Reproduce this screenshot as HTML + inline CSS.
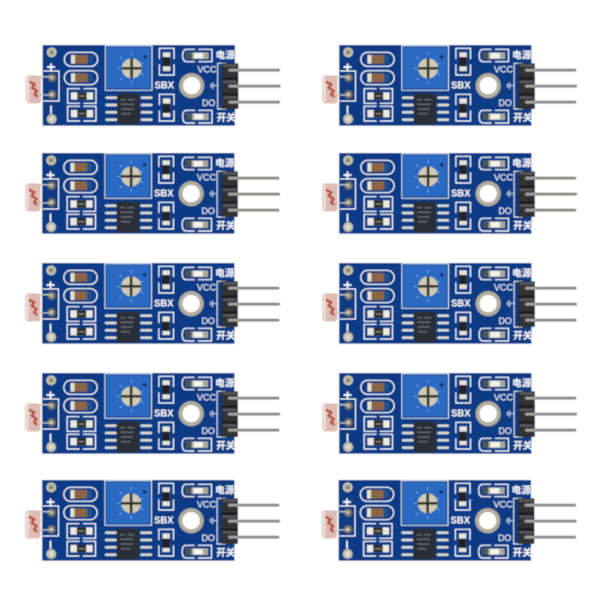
<!DOCTYPE html>
<html><head><meta charset="utf-8"><style>html,body{margin:0;padding:0;background:#fff;width:600px;height:600px;overflow:hidden}svg{display:block}text{font-family:"Liberation Sans","Noto Sans CJK SC",sans-serif;font-weight:700;fill:#fff}</style></head><body>
<svg width="600" height="600" viewBox="0 0 600 600" xmlns="http://www.w3.org/2000/svg">
<defs>
<filter id="s" x="0" y="0" width="600" height="600" filterUnits="userSpaceOnUse"><feGaussianBlur stdDeviation=".4"/></filter>
<g id="b">
<!-- pins behind -->
<g fill="#8c8c88"><rect x="650" y="101" width="130" height="9" rx="4"/><rect x="650" y="149" width="132" height="9" rx="4"/><rect x="650" y="197" width="130" height="9" rx="4"/></g>
<!-- LDR body -->
<rect x="17" y="121" width="46" height="84" rx="9" fill="#dcbcb4"/>
<rect x="19" y="124" width="9" height="78" rx="4" fill="#ecdcd6"/>
<path d="M28 140l16 8-7 10 14 10-7 10 9 8" fill="none" stroke="#b8483e" stroke-width="7"/>
<!-- board -->
<rect x="68" y="30" width="577" height="242" fill="#0a3a86"/>
<path d="M130 175H260M130 205H260M400 90L480 60M560 190L600 175" stroke="#0e4ba0" stroke-width="3" fill="none"/>
<!-- mounting holes -->
<circle cx="95" cy="52" r="15" fill="#c2c0ae"/><circle cx="95" cy="52" r="7" fill="#8d8a74"/>
<circle cx="95" cy="252" r="15" fill="#c2c0ae"/><circle cx="95" cy="252" r="7" fill="#dcdcd2"/>
<!-- +/- and LDR pads -->
<path d="M81 96h24M93 85v22M93 212v24" stroke="#fff" stroke-width="5" fill="none"/>
<path d="M70 108H117V198H70" stroke="#fff" stroke-width="3" fill="none"/>
<circle cx="96" cy="128" r="13" fill="#6f6e62"/><circle cx="96" cy="128" r="6" fill="#b5b3a0"/>
<circle cx="96" cy="178" r="13" fill="#6f6e62"/><circle cx="96" cy="178" r="6" fill="#c5c3b0"/>
<path d="M58 125H96M58 180H96" stroke="#c2c2ba" stroke-width="4"/>
<!-- capsule parts -->
<g stroke="#fff" stroke-width="3.5" fill="none"><rect x="133" y="52" width="100" height="42" rx="21"/><rect x="133" y="107" width="100" height="42" rx="21"/></g>
<rect x="153" y="60" width="50" height="26" fill="#8a6646"/><rect x="153" y="60" width="12" height="26" fill="#e4e0d0"/><rect x="203" y="60" width="16" height="26" fill="#234f8e"/>
<rect x="153" y="115" width="50" height="26" fill="#8a6646"/><rect x="153" y="115" width="12" height="26" fill="#e4e0d0"/><rect x="203" y="115" width="16" height="26" fill="#234f8e"/>
<!-- resistors -->
<g stroke="#fff" stroke-width="3.5" fill="none"><path d="M180 161H143V205H180M190 161H228V205H190"/><path d="M180 214H143V258H180M190 214H228V258H190"/></g>
<rect x="153" y="172" width="66" height="22" fill="#eceae0"/><rect x="172" y="172" width="28" height="22" fill="#2a2a2a"/>
<rect x="153" y="225" width="66" height="22" fill="#eceae0"/><rect x="172" y="225" width="28" height="22" fill="#2a2a2a"/>
<path d="M177 183h18M177 236h18" stroke="#7c7c76" stroke-width="5"/>
<!-- IC -->
<g fill="#d8d8d0"><rect x="256" y="184" width="36" height="8" rx="4"/><rect x="256" y="206" width="36" height="8" rx="4"/><rect x="256" y="228" width="36" height="8" rx="4"/><rect x="256" y="250" width="36" height="8" rx="4"/><rect x="362" y="184" width="36" height="8" rx="4"/><rect x="362" y="206" width="36" height="8" rx="4"/><rect x="362" y="228" width="36" height="8" rx="4"/><rect x="362" y="250" width="36" height="8" rx="4"/></g>
<rect x="292" y="176" width="66" height="92" rx="3" fill="#2b2f36"/>
<path d="M302 194h14M324 194h20M302 208h40M304 222h36M304 236h28" stroke="#5f656e" stroke-width="5"/>
<!-- potentiometer -->
<rect x="256" y="32" width="140" height="134" fill="none" stroke="#dfe8f4" stroke-width="3"/>
<rect x="260" y="36" width="131" height="125" fill="#2c6ac2"/>
<rect x="370" y="60" width="11" height="11" rx="5.5" fill="#12305f"/>
<g stroke="#6fa8e6" stroke-width="3"><path d="M335 50v10M300 65l7 7M370 120l-7-7M292 100h10M300 135l7-7M335 148v-10M370 85l-8 3"/></g>
<circle cx="335" cy="100" r="30" fill="#cfcab6"/><path d="M331 70h8v60h-8zM305 96h60v8h-60z" fill="#33322e"/>
<!-- right-hand resistor packs -->
<g stroke="#fff" stroke-width="3.5" fill="none"><path d="M418 72V40H462V72M418 88V120H462V88"/><path d="M418 210V178H462V210M418 226V258H462V226"/></g>
<rect x="429" y="52" width="22" height="56" fill="#e6e4d8"/><rect x="429" y="66" width="22" height="28" fill="#232323"/>
<rect x="429" y="190" width="22" height="56" fill="#e6e4d8"/><rect x="429" y="206" width="22" height="28" fill="#232323"/>
<!-- LEDs -->
<g stroke="#fff" stroke-width="3.5" fill="none"><path d="M525 43H500Q488 43 488 62Q488 80 500 80H525M535 43H576V80H535"/><path d="M525 226H500Q488 226 488 245Q488 264 500 264H525M535 226H576V264H535"/></g>
<rect x="498" y="52" width="68" height="20" fill="#a8a89c"/><rect x="498" y="52" width="18" height="20" fill="#4a5458"/><rect x="522" y="54" width="28" height="16" fill="#f4f4ee"/>
<rect x="498" y="235" width="68" height="20" fill="#a8a89c"/><rect x="498" y="235" width="18" height="20" fill="#4a5458"/><rect x="522" y="237" width="28" height="16" fill="#f4f4ee"/>
<!-- big hole -->
<circle cx="515" cy="152" r="38" fill="#b0ad9f"/><circle cx="515" cy="152" r="26" fill="#fff"/>
<!-- ground symbol -->
<path d="M592 152h-12M579 142v20M573 146v12" stroke="#c8d4e6" stroke-width="3" fill="none"/>
<!-- text -->
<text x="404" y="160" font-size="29" textLength="58" lengthAdjust="spacingAndGlyphs">SBX</text>
<text x="532" y="112" font-size="27" textLength="58" lengthAdjust="spacingAndGlyphs" style="font-weight:400">VCC</text>
<text x="546" y="213" font-size="27" textLength="40" lengthAdjust="spacingAndGlyphs" style="font-weight:400">DO</text>
<text x="587" y="70" font-size="29">电源</text>
<text x="590" y="258" font-size="29">开关</text>
<!-- header -->
<rect x="593" y="85" width="24" height="137" fill="none" stroke="#f0f0f0" stroke-width="3"/>
<rect x="605" y="85" width="50" height="137" fill="#313135"/>
<g fill="#5a5a60"><rect x="610" y="88" width="40" height="7"/><rect x="610" y="137" width="40" height="7"/><rect x="610" y="184" width="40" height="7"/></g>
<g fill="#141418"><rect x="605" y="128" width="50" height="5"/><rect x="605" y="176" width="50" height="5"/></g>
<g fill="#a2a29c"><rect x="626" y="101" width="32" height="9"/><rect x="626" y="149" width="32" height="9"/><rect x="626" y="197" width="32" height="9"/></g>
</g>
</defs>
<g filter="url(#s)">
<rect width="600" height="600" fill="#fff"/>
<g transform="translate(20 35) scale(.33333)"><use href="#b"/></g>
<g transform="translate(19.5 143) scale(.33333)"><use href="#b"/></g>
<g transform="translate(19.5 253) scale(.33333)"><use href="#b"/></g>
<g transform="translate(19.5 363) scale(.33333)"><use href="#b"/></g>
<g transform="translate(19.5 470) scale(.33333)"><use href="#b"/></g>
<g transform="translate(316.5 35) scale(.33333)"><use href="#b"/></g>
<g transform="translate(316.5 143) scale(.33333)"><use href="#b"/></g>
<g transform="translate(316.5 253) scale(.33333)"><use href="#b"/></g>
<g transform="translate(316.5 363) scale(.33333)"><use href="#b"/></g>
<g transform="translate(316 470) scale(.33333)"><use href="#b"/></g>
</g>
</svg>
</body></html>
